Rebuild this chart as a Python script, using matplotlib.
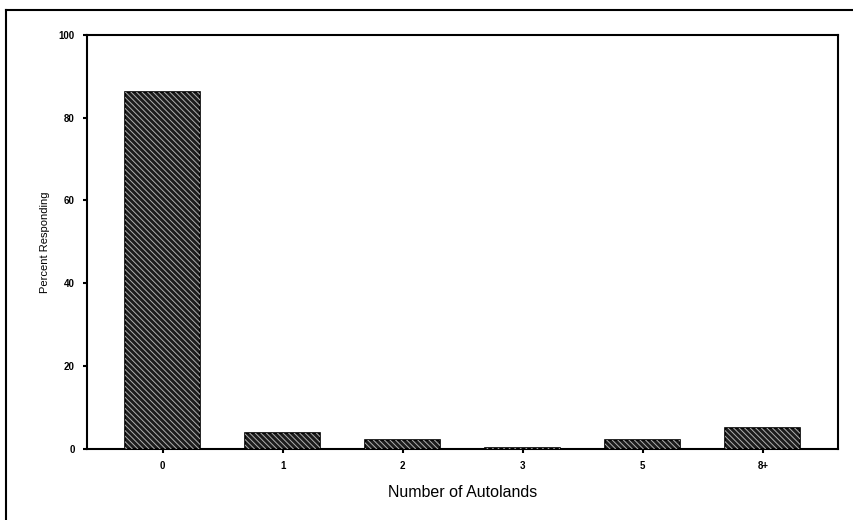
import matplotlib.pyplot as plt
from matplotlib.lines import Line2D

# data
categories = ['0', '1', '2', '3', '5', '8+']
percent = [86.2, 3.9, 2.0, 0.3, 2.2, 5.1]

plt.rcParams['font.family'] = ['Liberation Sans', 'DejaVu Sans']
plt.rcParams['hatch.linewidth'] = 0.7

fig = plt.figure(figsize=(8.54, 5.2), dpi=100)
ax = fig.add_axes([0.102, 0.137, 0.879, 0.796])

x = list(range(len(categories)))
# dark bars with light diagonal hatching on top
ax.bar(x, percent, width=0.625, color='#1c1c1c', edgecolor='black', linewidth=1.2, zorder=2)
ax.bar(x, percent, width=0.625, facecolor='none', edgecolor='#b0b0b0', hatch='\\\\\\\\\\\\', linewidth=0, zorder=3)

ax.set_xlim(-0.63, 5.625)
ax.set_ylim(0, 100)
ax.set_yticks([0, 20, 40, 60, 80, 100])
ax.set_xticks(x)
ax.set_xticklabels(categories)
ax.tick_params(axis='both', labelsize=7, length=3, width=1.5, pad=6)
for lab in ax.get_xticklabels() + ax.get_yticklabels():
    lab.set_fontweight('bold')

for s in ax.spines.values():
    s.set_linewidth(1.5)

ax.set_ylabel('Percent Responding', fontsize=8, labelpad=6)
ax.set_xlabel('Number of Autolands', fontsize=11.5, labelpad=10)

# outer frame of the scanned page
fig.add_artist(Line2D([6/854, 6/854], [0, 1 - 10/520], color='black', lw=1.5))
fig.add_artist(Line2D([6/854, 1], [1 - 10/520, 1 - 10/520], color='black', lw=1.5))

fig.savefig('out.png', dpi=100)
